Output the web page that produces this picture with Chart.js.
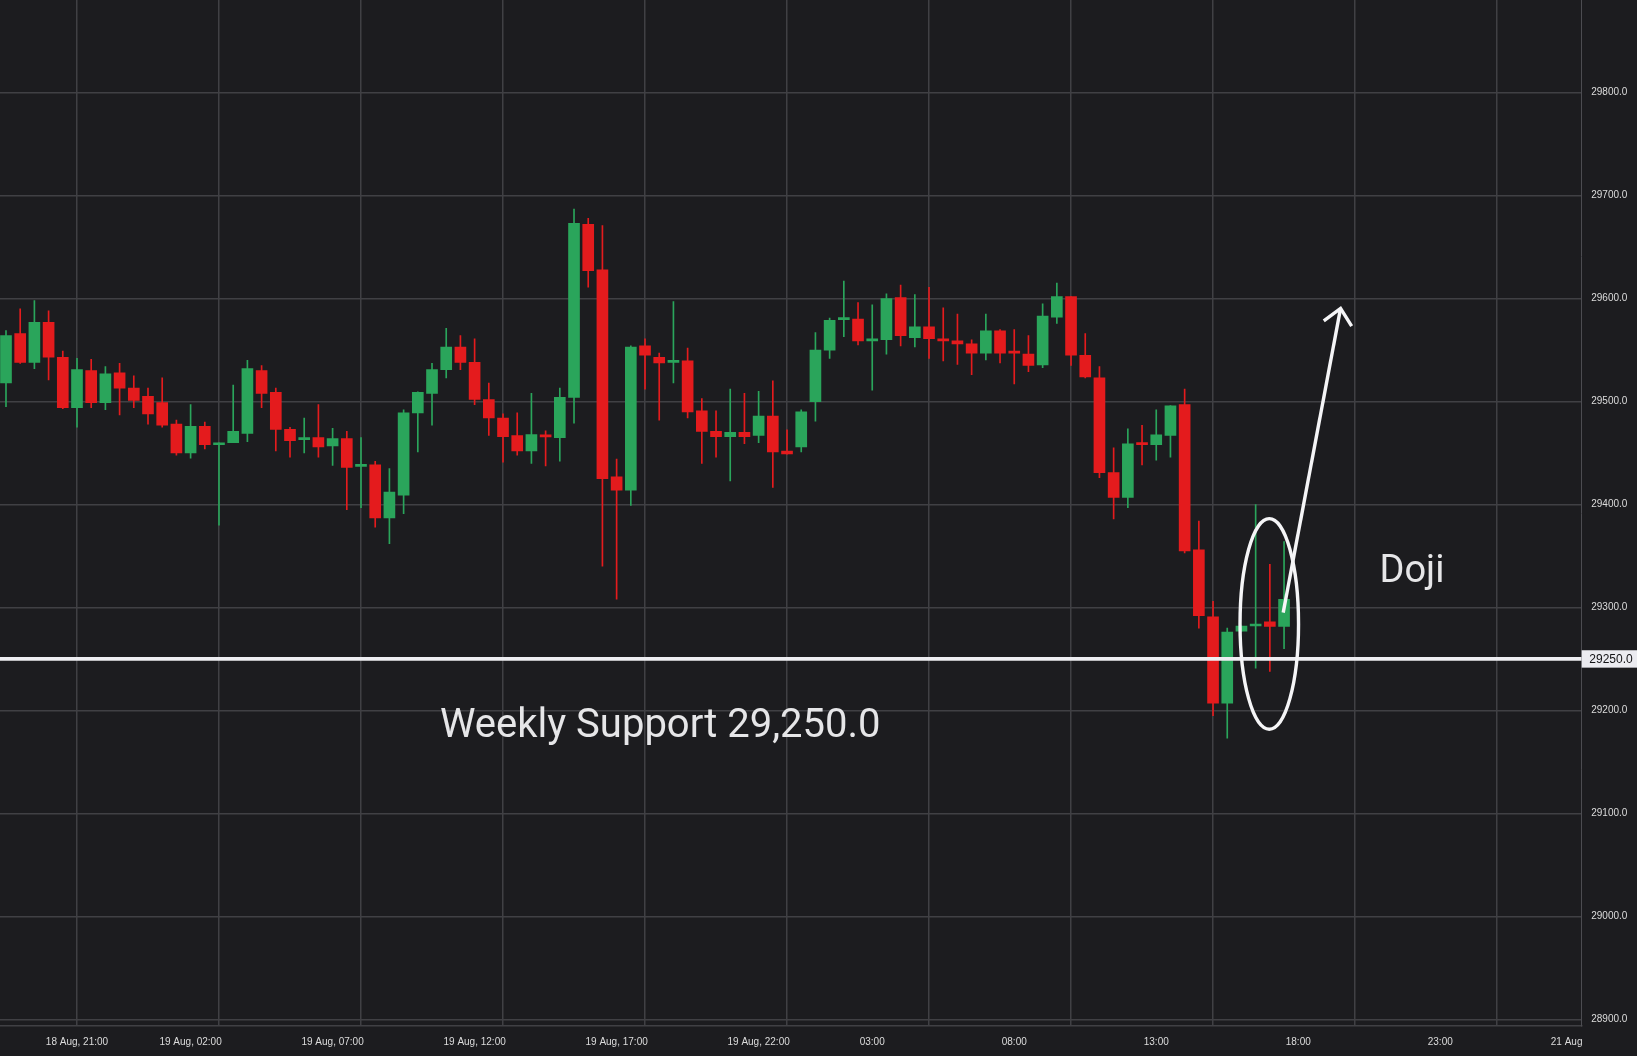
<!DOCTYPE html>
<html>
<head>
<meta charset="utf-8">
<script src="https://cdn.jsdelivr.net/npm/chart.js@4.4.1/dist/chart.umd.min.js"></script>
<style>
html,body{margin:0;padding:0;background:#1c1c1f;overflow:hidden}
#wrap{width:1637px;height:1056px;position:relative;background:#1c1c1f}
</style>
</head>
<body>
<div id="wrap"><canvas id="c"></canvas></div>
<script>
// ---- data (30-minute candles) ----
const times = [
 "18 Aug 18:30","18 Aug 19:00","18 Aug 19:30","18 Aug 20:00","18 Aug 20:30","18 Aug 21:00","18 Aug 21:30","18 Aug 22:00","18 Aug 22:30","18 Aug 23:00","18 Aug 23:30",
 "19 Aug 00:00","19 Aug 00:30","19 Aug 01:00","19 Aug 01:30","19 Aug 02:00","19 Aug 02:30","19 Aug 03:00","19 Aug 03:30","19 Aug 04:00","19 Aug 04:30",
 "19 Aug 05:00","19 Aug 05:30","19 Aug 06:00","19 Aug 06:30","19 Aug 07:00","19 Aug 07:30","19 Aug 08:00","19 Aug 08:30","19 Aug 09:00","19 Aug 09:30",
 "19 Aug 10:00","19 Aug 10:30","19 Aug 11:00","19 Aug 11:30","19 Aug 12:00","19 Aug 12:30","19 Aug 13:00","19 Aug 13:30","19 Aug 14:00","19 Aug 14:30",
 "19 Aug 15:00","19 Aug 15:30","19 Aug 16:00","19 Aug 16:30","19 Aug 17:00","19 Aug 17:30","19 Aug 18:00","19 Aug 18:30","19 Aug 19:00","19 Aug 19:30",
 "19 Aug 20:00","19 Aug 20:30","19 Aug 21:00","19 Aug 21:30","19 Aug 22:00","19 Aug 22:30","19 Aug 23:00","19 Aug 23:30",
 "20 Aug 00:00","20 Aug 00:30","20 Aug 01:00","20 Aug 01:30","20 Aug 02:00","20 Aug 02:30","20 Aug 03:00","20 Aug 03:30","20 Aug 04:00","20 Aug 04:30",
 "20 Aug 05:00","20 Aug 05:30","20 Aug 06:00","20 Aug 06:30","20 Aug 07:00","20 Aug 07:30","20 Aug 08:00","20 Aug 08:30","20 Aug 09:00","20 Aug 09:30",
 "20 Aug 10:00","20 Aug 10:30","20 Aug 11:00","20 Aug 11:30","20 Aug 12:00","20 Aug 12:30","20 Aug 13:00","20 Aug 13:30","20 Aug 14:00","20 Aug 14:30",
 "20 Aug 15:00","20 Aug 15:30"
];
const open = [
 29518,29566,29538,29577,29543,29494,29530,29499,29528,29513,29505,
 29499,29478,29450,29476,29458,29460,29469,29530,29509,29473,
 29463,29465,29457,29464,29437,29438.5,29387,29409,29489,29508,
 29531,29553,29538,29502,29484,29467,29452,29467.5,29465,29504,
 29672,29628,29427,29414,29554,29543,29538,29539.5,29491,29471,
 29466,29470,29467,29486,29452,29456,29500,29550,
 29579.5,29580,29559,29560,29601,29562,29572.5,29561,29559,29556,
 29547,29568.6,29548,29546,29535.6,29582,29602,29545,29523,29431,
 29407,29459.2,29458,29467,29497,29356,29291,29207,29277,29282,
 29286,29281.6
];
const high = [
 29569,29590,29598,29588,29549,29542,29541,29534,29537,29525,29513,
 29523,29482,29497,29480,29460,29516,29540,29535,29513,29475,
 29484,29497,29474,29471,29465,29442,29435,29492,29509.5,29537,
 29571,29564,29561,29518,29488,29489,29508,29471.5,29513,29687,
 29678,29671,29444,29554,29561,29547,29597,29552,29503,29491,
 29512,29508,29510,29520,29472.5,29492,29567,29581,
 29617,29596,29594,29604.5,29613,29604,29611,29591,29585,29560,
 29585,29570,29570,29564,29595,29615,29602,29566,29534,29455,
 29473.5,29477,29492,29496,29512,29384,29306,29280,29282,29400,
 29342,29364
];
const low = [
 29495,29537,29532,29521,29493,29475,29494,29492,29487,29494,29478,
 29475,29448,29445,29454,29380,29460,29461,29494,29452,29446,
 29450,29446,29438,29395,29397,29378,29362,29391,29451,29477,
 29523,29531,29497,29467,29441,29448,29440,29437.5,29442,29479,
 29611,29340,29308,29399,29512,29482,29518,29484,29440,29446,
 29423,29459,29460,29416.5,29449,29451,29481,29542,
 29563,29555,29511,29546,29554,29553,29542,29539.5,29536,29526,
 29540.5,29537.5,29517,29529,29533,29576,29535,29523,29426,29386,
 29397,29438.5,29443,29446,29353,29280,29195,29173,29277,29241,
 29238,29260
];
const close = [
 29564,29538,29577,29543,29494,29531,29499,29527,29513,29501,29488,
 29477,29450,29476,29458,29459,29471,29532,29508,29473,29462,
 29464.5,29456,29464,29436,29438.5,29387,29412,29489,29509,29531,
 29553,29538,29502,29484,29466,29452,29468,29465.7,29504,29673,
 29627,29425,29414,29553,29545,29537.5,29539.5,29490,29471,29466,
 29470,29466,29486,29451,29449.2,29490,29550,29579,
 29580.5,29559,29560,29600,29564,29572.5,29561,29559,29556,29547,
 29568.6,29547,29547,29535,29583,29602,29545,29524,29431,29407,
 29459,29458.2,29467.6,29495.8,29355,29292,29207,29276,29282,29283,
 29281.6,29308
];

// ---- axes / labels ----
const yTickValues = [28900,29000,29100,29200,29300,29400,29500,29600,29700,29800];
const gridTickHours = [21,26,31,36,41,46,51,56,61,66,71];
const xLabelHours = [21,25,30,35,40,45,49,54,59,64,69,73.45];
const xLabels = ["18 Aug, 21:00","19 Aug, 02:00","19 Aug, 07:00","19 Aug, 12:00","19 Aug, 17:00","19 Aug, 22:00","03:00","08:00","13:00","18:00","23:00","21 Aug"];
const xRange = [18.289, 73.98];
const yRange = [28893.5, 29890];

// ---- annotations (data units: hours since 18 Aug 00:00, price) ----
const supportLevel = 29250;
const supportLabel = "29250.0";
const supportText = "Weekly Support 29,250.0";
const supportTextPos = [33.78, 29174.5];
const dojiText = "Doji";
const dojiTextPos = [66.86, 29325];
const ellipseCenter = [62.98, 29284];
const ellipseRadius = [1.03, 102.3];
const arrowFrom = [63.47, 29295];
const arrowTo = [65.49, 29590.5];

const GREEN = '#2aa55b', RED = '#e41b1d';

function toHours(s){
  const p = s.split(' ');
  const hm = p[2].split(':');
  return (parseInt(p[0],10)-18)*24 + parseInt(hm[0],10) + parseInt(hm[1],10)/60;
}
const hours = times.map(toHours);
const candleColors = open.map((o,i)=> close[i] >= o ? GREEN : RED);

const overlay = {
  id:'overlay',
  afterDatasetsDraw(chart){
    const {ctx, scales:{x,y}} = chart;
    ctx.save();
    ctx.strokeStyle = '#f5f5f7';
    ctx.lineWidth = 3.4;
    // ellipse
    const cx = x.getPixelForValue(ellipseCenter[0]), cy = y.getPixelForValue(ellipseCenter[1]);
    const rx = Math.abs(x.getPixelForValue(ellipseCenter[0]+ellipseRadius[0]) - cx);
    const ry = Math.abs(y.getPixelForValue(ellipseCenter[1]+ellipseRadius[1]) - cy);
    ctx.beginPath(); ctx.ellipse(cx, cy, rx, ry, 0, 0, Math.PI*2); ctx.stroke();
    // arrow
    const x1 = x.getPixelForValue(arrowFrom[0]), y1 = y.getPixelForValue(arrowFrom[1]);
    const x2 = x.getPixelForValue(arrowTo[0]), y2 = y.getPixelForValue(arrowTo[1]);
    ctx.beginPath(); ctx.moveTo(x1,y1); ctx.lineTo(x2,y2); ctx.stroke();
    const ang = Math.atan2(y1-y2, x1-x2), hl = 21, ha = 42.5*Math.PI/180;
    ctx.beginPath();
    ctx.moveTo(x2 + hl*Math.cos(ang+ha), y2 + hl*Math.sin(ang+ha));
    ctx.lineTo(x2, y2);
    ctx.lineTo(x2 + hl*Math.cos(ang-ha), y2 + hl*Math.sin(ang-ha));
    ctx.stroke();
    // texts
    ctx.fillStyle = '#e6e6e8';
    ctx.textAlign = 'left'; ctx.textBaseline = 'alphabetic';
    ctx.font = '40px Roboto';
    ctx.fillText(supportText, x.getPixelForValue(supportTextPos[0]), y.getPixelForValue(supportTextPos[1]));
    ctx.font = '38px Roboto';
    ctx.fillText(dojiText, x.getPixelForValue(dojiTextPos[0]), y.getPixelForValue(dojiTextPos[1]));
    ctx.restore();
  },
  afterDraw(chart){
    const {ctx, chartArea, scales:{y}} = chart;
    const py = y.getPixelForValue(supportLevel);
    ctx.save();
    ctx.fillStyle = '#ebebf0';
    ctx.fillRect(chartArea.right, py-8.7, chart.width-chartArea.right, 17.4);
    ctx.fillStyle = '#131316';
    ctx.font = '12px "Liberation Sans", Arial, sans-serif';
    ctx.textAlign = 'left'; ctx.textBaseline = 'middle';
    ctx.fillText(supportLabel, chartArea.right + 7.6, py + 0.5);
    ctx.restore();
  }
};

new Chart(document.getElementById('c'), {
  type: 'bar',
  data: {
    datasets: [
      {
        type: 'line',
        data: [{x:xRange[0], y:supportLevel},{x:xRange[1], y:supportLevel}],
        borderColor: '#eeeef2', borderWidth: 3.7, pointRadius: 0, order: 0,
        xAxisID: 'x', yAxisID: 'y'
      },
      {
        data: hours.map((h,i)=>({x:h, y:[open[i], close[i]]})),
        backgroundColor: candleColors, borderWidth: 0,
        barThickness: 11, maxBarThickness: 11, minBarLength: 2,
        grouped: false, order: 1, xAxisID: 'x', yAxisID: 'y'
      },
      {
        data: hours.map((h,i)=>({x:h, y:[low[i], high[i]]})),
        backgroundColor: candleColors, borderWidth: 0,
        barThickness: 1, maxBarThickness: 1,
        grouped: false, order: 2, xAxisID: 'x', yAxisID: 'y'
      }
    ]
  },
  options: {
    responsive: true, maintainAspectRatio: false, animation: false,
    devicePixelRatio: 1,
    layout: {padding: 0},
    plugins: {legend: {display: false}, tooltip: {enabled: false}},
    scales: {
      x: {
        type: 'linear', position: 'bottom', min: xRange[0], max: xRange[1], offset: false,
        grid: {color: '#404044', lineWidth: 1.5, drawTicks: false, offset: false},
        border: {color: '#404044', width: 1.5},
        ticks: {display: false},
        afterBuildTicks: s => { s.ticks = gridTickHours.map(v => ({value: v})); },
        afterFit: s => { s.height = 0; s.paddingLeft = 0; s.paddingRight = 0; }
      },
      xl: {
        type: 'linear', axis: 'x', position: 'bottom', min: xRange[0], max: xRange[1], offset: false,
        grid: {display: false, drawTicks: false},
        border: {display: false},
        ticks: {color: '#dcdcdc', font: {family: '"Liberation Sans", Arial, sans-serif', size: 10},
                padding: 10, maxRotation: 0, autoSkip: false,
                callback: (v, i) => xLabels[i]},
        afterBuildTicks: s => { s.ticks = xLabelHours.map(v => ({value: v})); },
        afterFit: s => { s.height = 30; s.paddingLeft = 0; s.paddingRight = 0; }
      },
      y: {
        type: 'linear', position: 'right', min: yRange[0], max: yRange[1], beginAtZero: false,
        grid: {color: '#404044', lineWidth: 1.5, drawTicks: false},
        border: {color: '#4c4c51', width: 1},
        ticks: {color: '#dcdcdc', font: {family: '"Liberation Sans", Arial, sans-serif', size: 10},
                padding: 9.5, callback: v => Number(v).toFixed(1)},
        afterBuildTicks: s => { s.ticks = yTickValues.map(v => ({value: v})); },
        afterFit: s => { s.width = 55.3; s.paddingTop = 0; s.paddingBottom = 0; }
      }
    }
  },
  plugins: [overlay]
});
</script>
</body>
</html>
